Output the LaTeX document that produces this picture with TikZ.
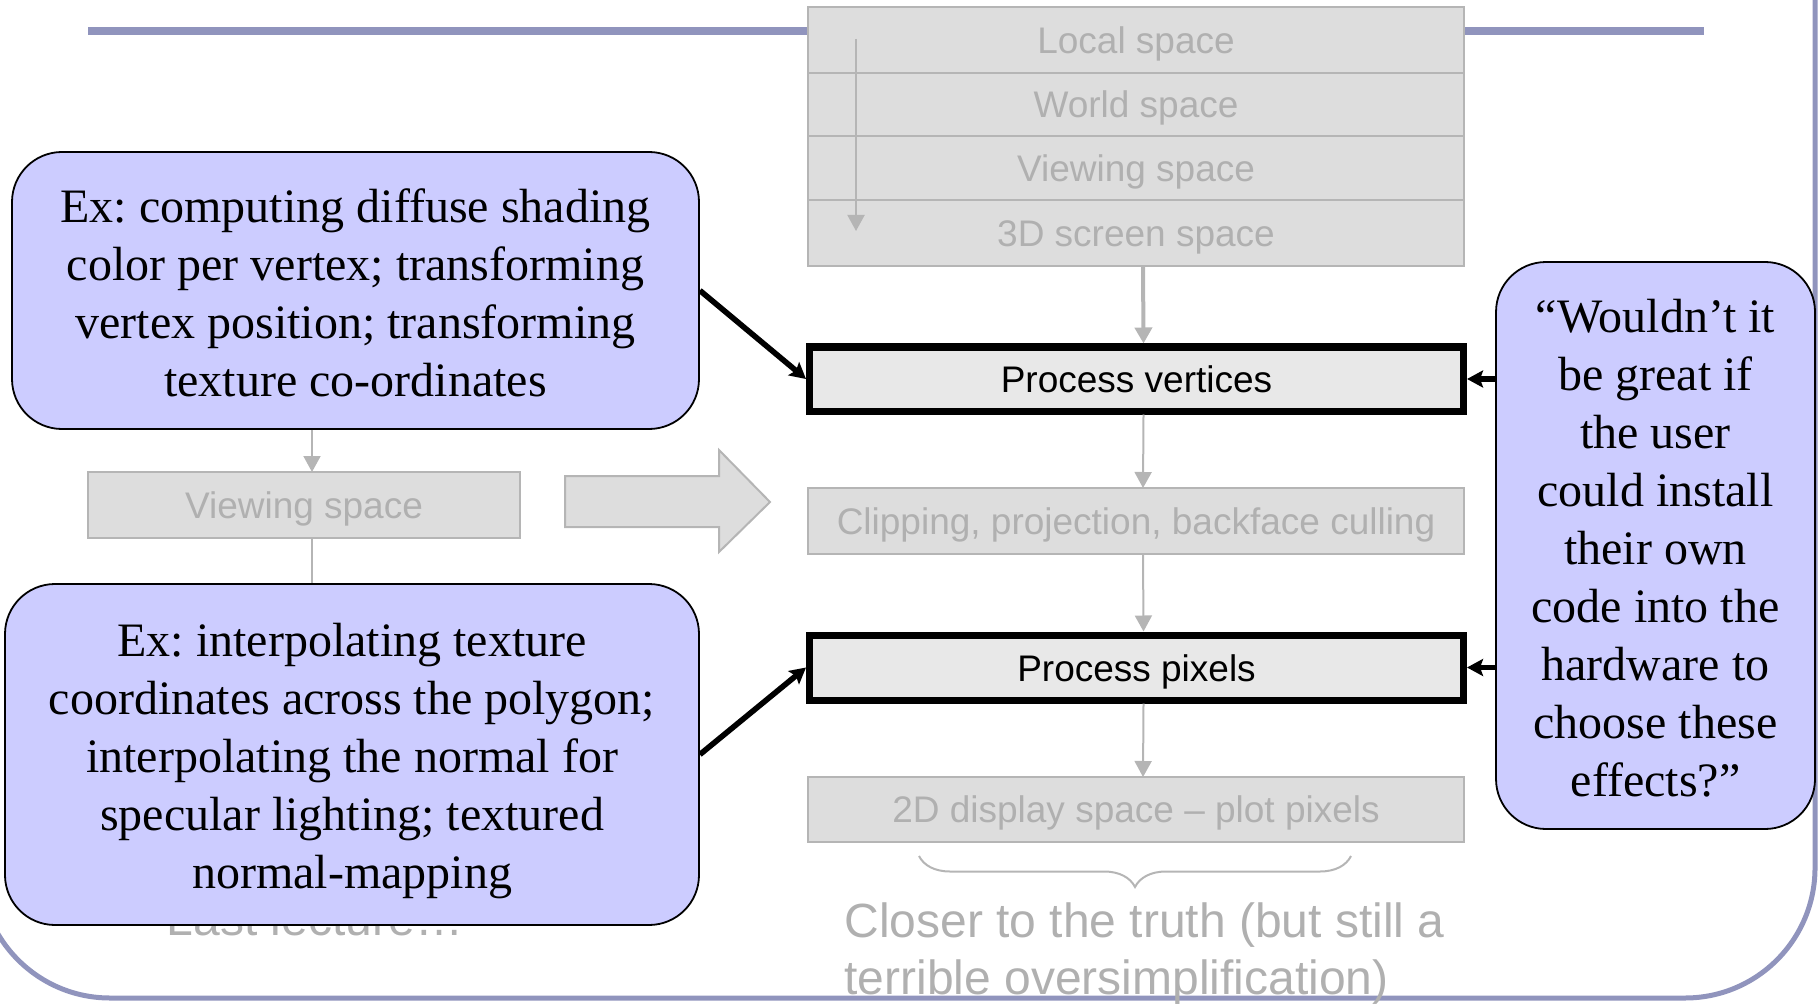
\documentclass[tikz,border=0pt]{standalone}
\usepackage{fontspec}
\setmainfont{Liberation Serif}
\setsansfont{Liberation Sans}
\frenchspacing
\usetikzlibrary{arrows.meta,decorations.pathreplacing,calc}
\definecolor{framec}{HTML}{9094BD}
\definecolor{boxfill}{HTML}{DDDDDD}
\definecolor{boxline}{HTML}{B5B5B5}
\definecolor{boxtext}{HTML}{B0B0B0}
\definecolor{callfill}{HTML}{CCCCFF}
\definecolor{procfill}{HTML}{E8E8E8}
\begin{document}
\begin{tikzpicture}[x=0.5pt,y=-0.5pt,
  graybox/.style={draw=boxline,line width=1pt,fill=boxfill,text=boxtext,font=\sffamily\fontsize{18.5}{22}\selectfont,minimum width=328pt,inner sep=0pt,outer sep=0pt,text height=17.3pt,text depth=4pt},
  procbox/.style={draw=black,line width=3.5pt,fill=procfill,font=\sffamily\fontsize{18.5}{22}\selectfont,minimum width=327pt,inner sep=0pt,text height=14pt,text depth=0pt},
  callout/.style={draw=black,line width=0.9pt,fill=callfill,rounded corners=25pt,font=\frenchspacing\fontsize{24}{29}\selectfont,align=center,inner sep=0pt},
  garrow/.style={draw=boxline,line width=1pt,-{Triangle[length=8pt,width=8.5pt]}},
  barrow/.style={draw=black,line width=2.8pt,-{Stealth[length=8pt,width=8.5pt,inset=1.5pt]}},
  graytext/.style={text=boxtext,font=\sffamily\fontsize{24}{28.5}\selectfont,inner sep=0pt}]

\useasboundingbox (0,0) rectangle (1818,1005);
\clip (0,0) rectangle (1818,1005);

% slide frame and title bar
\draw[framec,line width=2.5pt,rounded corners=65pt] (-20,-300) rectangle (1815,998);
\fill[framec] (88,27) rectangle (1704,35);

% top stack
\node[graybox,minimum height=33pt] (ls) at (1136,40) {Local space};
\node[graybox,minimum height=31.5pt] (ws) at (1136,104.5) {World space};
\node[graybox,minimum height=32pt] (vsp) at (1136,168) {Viewing space};
\node[graybox,minimum height=33pt] (ss) at (1136,233) {3D screen space};
\coordinate (ia) at (856,39);
\coordinate (ib) at (856,231);
\draw[garrow] (ia) -- (ib);

% pipeline
\node[procbox,minimum height=32pt] (pv) at (1136.5,379) {Process vertices};
\node[graybox,minimum height=33pt] (cl) at (1136,521) {Clipping, projection, backface culling};
\node[procbox,minimum height=32.5pt] (pp) at (1136.5,667.5) {Process pixels};
\node[graybox,minimum height=32.5pt] (dd) at (1136,809.5) {2D display space – plot pixels};

\draw[garrow,line width=2pt] ($(ss.south)+(7,0)$) -- ($(pv.north)+(7,0)$);
\draw[garrow] ($(pv.south)+(7,0)$) -- ($(cl.north)+(7,0)$);
\draw[garrow] ($(cl.south)+(7,0)$) -- ($(pp.north)+(7,0)$);
\draw[garrow] ($(pp.south)+(7,0)$) -- ($(dd.north)+(7,0)$);

% brace and caption
\coordinate (b1) at (919,856);
\coordinate (b2) at (1351,856);
\draw[boxline,line width=1pt,decorate,decoration={brace,mirror,amplitude=15.5pt}] (b1) -- (b2);
\node[graytext,anchor=base west] (ct1) at (844,937) {Closer to the truth (but still a};
\node[graytext,anchor=base west] (ct2) at (844,994) {terrible oversimplification)};

% left side
\node[graybox,minimum width=216pt,minimum height=33pt] (lv) at (304,505) {Viewing space};
\filldraw[fill=boxfill,draw=boxline,line width=1pt] (565,476) -- (719,476) -- (719,450) -- (770,502) -- (719,552) -- (719,527) -- (565,527) -- cycle;
\node[graytext,anchor=base] (ll) at (315,935) {Last lecture…};

% callouts
\node[callout,minimum width=343.5pt,minimum height=138.5pt] (c1) at (355.5,290.5)
  {\rule{0pt}{18.8pt}Ex: computing diffuse shading\\color per vertex; transforming\\vertex position; transforming\\texture co-ordinates};
\node[callout,minimum width=347pt,minimum height=170.5pt] (c2) at (352,754.5)
  {\rule{0pt}{23.4pt}Ex: interpolating texture\\coordinates across the polygon;\\interpolating the normal for\\specular lighting; textured\\normal-mapping};
\node[callout,minimum width=159.5pt,minimum height=283.5pt] (rc) at (1655.5,545.5)
  {\rule{0pt}{19.4pt}“Wouldn’t it\\be great if\\the user\\could install\\their own\\code into the\\hardware to\\choose these\\effects?”};

% gray connectors on the left
\path (c1.south -| lv.north) coordinate (t1);
\path (c2.north -| lv.south) coordinate (t2);
\draw[garrow] ($(t1)+(8,0)$) -- ($(lv.north)+(8,0)$);
\draw[boxline,line width=1pt] ($(lv.south)+(8,0)$) -- ($(t2)+(8,0)$);

% black arrows
\draw[barrow] (c1.east) -- (pv.west);
\draw[barrow] (c2.east) -- (pp.west);
\draw[barrow] (rc.west |- pv.east) -- (pv.east);
\draw[barrow] (rc.west |- pp.east) -- (pp.east);
\end{tikzpicture}
\end{document}
